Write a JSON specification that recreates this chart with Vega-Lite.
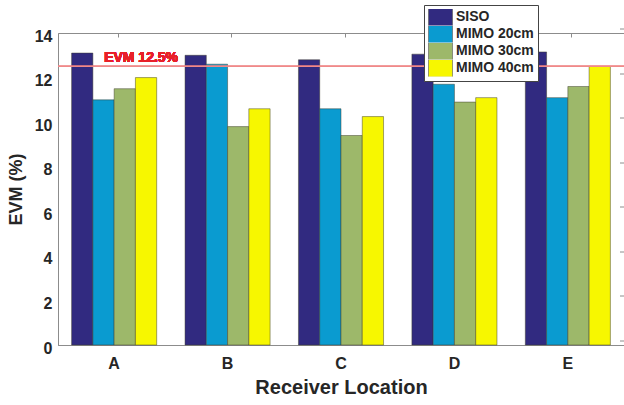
{
  "$schema": "https://vega.github.io/schema/vega-lite/v6.json",
  "width": 566,
  "height": 312,
  "autosize": {"type": "none"},
  "padding": {"left": 58, "top": 33, "right": 0, "bottom": 60},
  "background": "white",
  "config": {
    "view": {"stroke": "#8c8c8c", "strokeWidth": 1},
    "font": "Liberation Sans",
    "axis": {
      "domainColor": "#8c8c8c",
      "tickColor": "#8c8c8c",
      "labelColor": "#262626",
      "titleColor": "#262626",
      "labelFont": "Liberation Sans",
      "titleFont": "Liberation Sans",
      "labelFontWeight": "bold",
      "titleFontWeight": "bold",
      "grid": false
    }
  },
  "data": {
    "values": [
      {"loc": "A", "series": "SISO", "evm": 13.1},
      {"loc": "A", "series": "MIMO 20cm", "evm": 11.0},
      {"loc": "A", "series": "MIMO 30cm", "evm": 11.5},
      {"loc": "A", "series": "MIMO 40cm", "evm": 12.0},
      {"loc": "B", "series": "SISO", "evm": 13.0},
      {"loc": "B", "series": "MIMO 20cm", "evm": 12.6},
      {"loc": "B", "series": "MIMO 30cm", "evm": 9.8},
      {"loc": "B", "series": "MIMO 40cm", "evm": 10.6},
      {"loc": "C", "series": "SISO", "evm": 12.8},
      {"loc": "C", "series": "MIMO 20cm", "evm": 10.6},
      {"loc": "C", "series": "MIMO 30cm", "evm": 9.4},
      {"loc": "C", "series": "MIMO 40cm", "evm": 10.25},
      {"loc": "D", "series": "SISO", "evm": 13.05},
      {"loc": "D", "series": "MIMO 20cm", "evm": 11.7},
      {"loc": "D", "series": "MIMO 30cm", "evm": 10.9},
      {"loc": "D", "series": "MIMO 40cm", "evm": 11.1},
      {"loc": "E", "series": "SISO", "evm": 13.15},
      {"loc": "E", "series": "MIMO 20cm", "evm": 11.1},
      {"loc": "E", "series": "MIMO 30cm", "evm": 11.6},
      {"loc": "E", "series": "MIMO 40cm", "evm": 12.5}
    ]
  },
  "resolve": {"axis": {"x": "independent", "y": "independent"}},
  "layer": [
    {
      "mark": {"type": "bar", "stroke": "#3a3a2a", "strokeWidth": 0.8, "strokeOpacity": 0.6},
      "encoding": {
        "x": {
          "field": "loc", "type": "nominal",
          "scale": {"paddingInner": 0.25, "paddingOuter": 0.12},
          "axis": {"title": "Receiver Location", "labelAngle": 0, "labelFontSize": 16, "titleFontSize": 20, "labelPadding": 10, "titlePadding": 6, "ticks": false}
        },
        "xOffset": {"field": "series", "type": "nominal", "sort": ["SISO", "MIMO 20cm", "MIMO 30cm", "MIMO 40cm"], "scale": {"paddingInner": 0, "paddingOuter": 0}},
        "y": {
          "field": "evm", "type": "quantitative",
          "scale": {"domain": [0, 14], "nice": false},
          "axis": {"title": "EVM (%)", "values": [0, 2, 4, 6, 8, 10, 12, 14], "labelFontSize": 16, "titleFontSize": 18, "ticks": false, "labelPadding": 6, "labelOffset": 3, "titlePadding": 9}
        },
        "color": {
          "field": "series", "type": "nominal",
          "sort": ["SISO", "MIMO 20cm", "MIMO 30cm", "MIMO 40cm"],
          "scale": {"domain": ["SISO", "MIMO 20cm", "MIMO 30cm", "MIMO 40cm"], "range": ["#312a80", "#0a9bd0", "#9db86a", "#f7f700"]},
          "legend": {
            "title": null,
            "orient": "none",
            "legendX": 366,
            "legendY": -28,
            "direction": "vertical",
            "fillColor": "white",
            "strokeColor": "#444",
            "padding": 4,
            "symbolType": "M-1,-0.75L1,-0.75L1,0.75L-1,0.75Z",
            "symbolSize": 576,
            "symbolStrokeColor": "#555",
            "symbolStrokeWidth": 0.6,
            "labelFontSize": 14,
            "labelFontWeight": "bold",
            "labelColor": "#262626",
            "labelFont": "Liberation Sans",
            "labelOffset": 3,
            "clipHeight": 16.5,
            "rowPadding": 0
          }
        }
      }
    },
    {
      "mark": {"type": "tick", "opacity": 0},
      "encoding": {
        "x": {"field": "loc", "type": "nominal", "axis": {"orient": "top", "labels": false, "title": null, "tickSize": 4, "domain": false, "translate": 4.5}},
        "y": {"field": "evm", "type": "quantitative", "axis": {"orient": "right", "labels": false, "title": null, "values": [0, 2, 4, 6, 8, 10, 12, 14], "tickSize": 4, "domain": false, "translate": -4}}
      }
    },
    {
      "mark": {"type": "rule", "color": "#f08a8a", "strokeWidth": 1},
      "encoding": {"y": {"datum": 12.5, "axis": null}}
    },
    {
      "mark": {"type": "text", "color": "#e8202a", "fontWeight": "bold", "fontSize": 14, "align": "left", "baseline": "middle", "dx": -10, "font": "Liberation Sans"},
      "encoding": {
        "x": {"datum": "A", "axis": null},
        "y": {"datum": 12.9, "axis": null},
        "text": {"value": "EVM 12.5%"}
      }
    }
  ]
}
